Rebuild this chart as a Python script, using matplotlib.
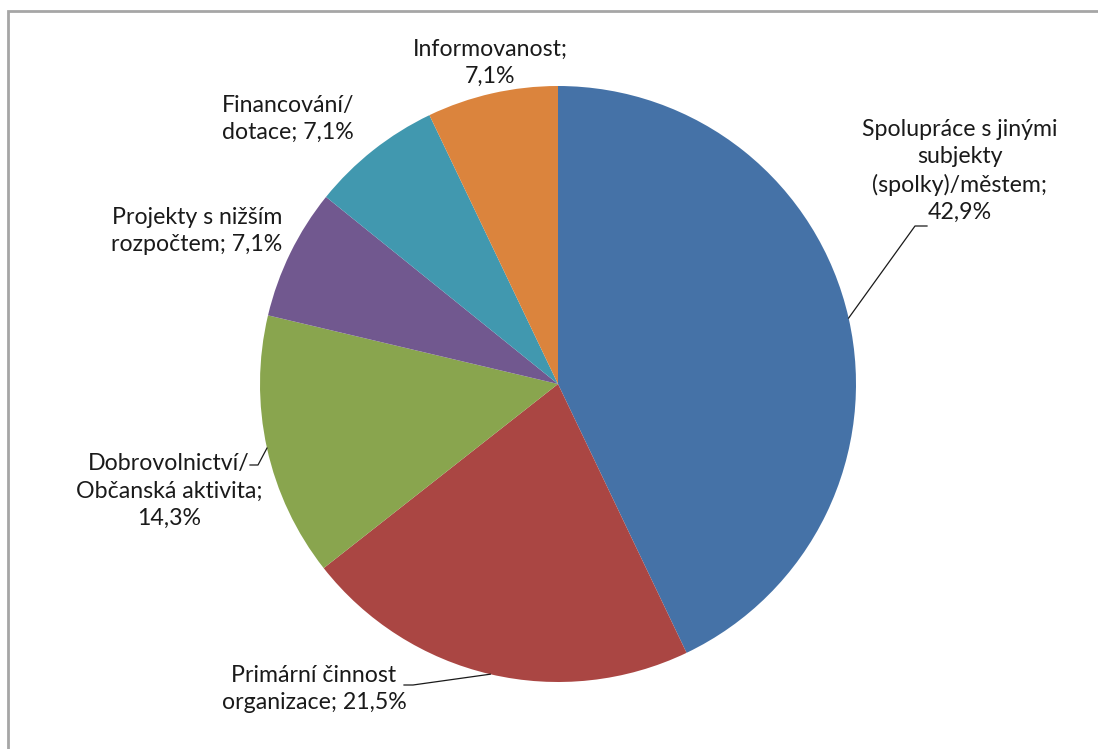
import numpy as np
import matplotlib
matplotlib.use("Agg")
import matplotlib.pyplot as plt
from matplotlib.patches import Rectangle

# hodnoty z grafu (procenta)
kategorie = ["Spolupráce s jinými\nsubjekty\n(spolky)/městem",
             "Primární činnost\norganizace",
             "Dobrovolnictví/\nObčanská aktivita",
             "Projekty s nižším\nrozpočtem",
             "Financování/\ndotace",
             "Informovanost"]
hodnoty = [42.9, 21.5, 14.3, 7.1, 7.1, 7.1]
popisky = ["Spolupráce s jinými\nsubjekty\n(spolky)/městem;\n42,9%",
           "Primární činnost\norganizace; 21,5%",
           "Dobrovolnictví/\nObčanská aktivita;\n14,3%",
           "Projekty s nižším\nrozpočtem; 7,1%",
           "Financování/\ndotace; 7,1%",
           "Informovanost;\n7,1%"]
barvy = ["#4572A7", "#AA4643", "#89A54E", "#71588F", "#4198AF", "#DB843D"]

W, H = 1098, 749
cx, cy, r = 558, 384, 298

fig = plt.figure(figsize=(W / 100, H / 100), dpi=100)
plt.rcParams['font.family'] = ['Lato', 'DejaVu Sans']

# okraj grafu
fig.patches.append(Rectangle((8 / W, -0.01), 1.0, (H - 11) / H + 0.01,
                             transform=fig.transFigure, fill=False,
                             edgecolor="#a6a6a6", linewidth=2))

ax = fig.add_axes([(cx - r) / W, (H - cy - r) / H, 2 * r / W, 2 * r / H])
wedges, _ = ax.pie(hodnoty, colors=barvy, startangle=90, counterclock=False,
                   radius=1.0, wedgeprops=dict(linewidth=0))
ax.set_xlim(-1, 1)
ax.set_ylim(-1, 1)
ax.set_aspect("equal")
ax.axis("off")


def px(x, y):
    # pixely -> souradnice osy
    return (x - cx) / r, (cy - y) / r


# pozice popisku (stred textu v pixelech)
pozice = [(960, 171), (314, 689), (169, 491), (197, 231), (288, 119), (490, 63)]
for (x, y), t in zip(pozice, popisky):
    tx, ty = px(x, y)
    ax.text(tx, ty, t, ha="center", va="center", fontsize=16.7,
            color="#1a1a1a", linespacing=1.36, clip_on=False)

# vodici cary
uhly = 90 - (np.cumsum(hodnoty) - np.array(hodnoty) / 2) * 3.6
vodici = {0: [(915, 226), (927, 226)],
          1: [(413, 685), (404, 685)],
          2: [(258, 465), (250, 465)]}
for i, body in vodici.items():
    a = np.deg2rad(uhly[i])
    xs = [np.cos(a)] + [px(*b)[0] for b in body]
    ys = [np.sin(a)] + [px(*b)[1] for b in body]
    ax.plot(xs, ys, color="#1a1a1a", linewidth=0.9, clip_on=False)

fig.savefig("out.png", dpi=100, facecolor="white")
